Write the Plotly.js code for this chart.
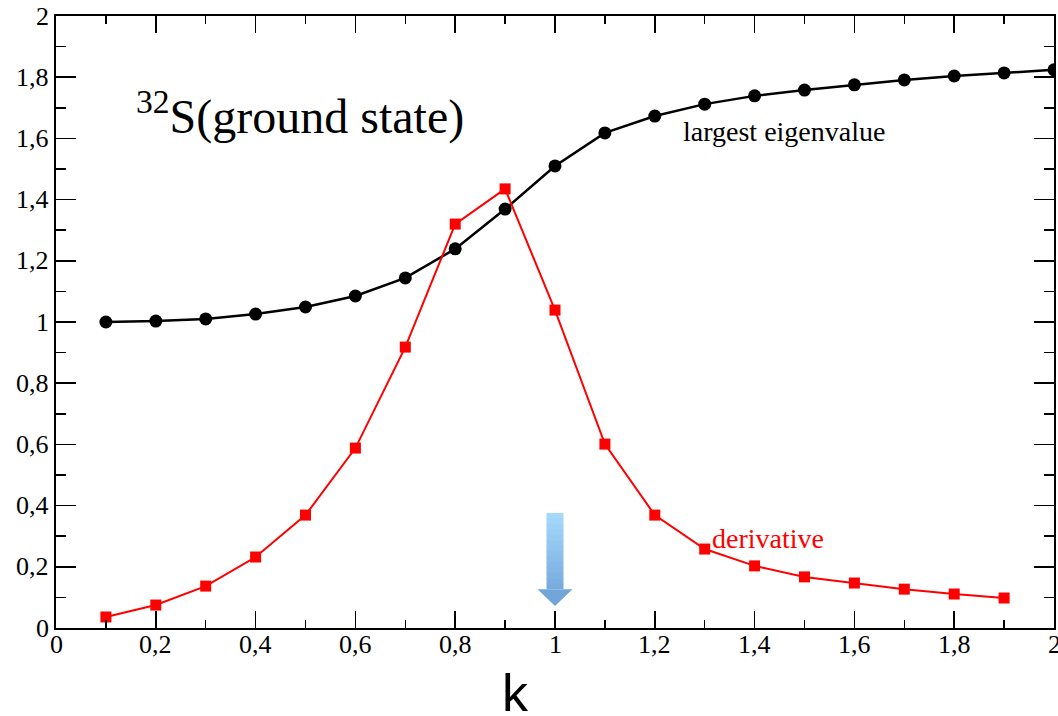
<!DOCTYPE html>
<html>
<head>
<meta charset="utf-8">
<script src="https://cdn.plot.ly/plotly-3.0.1.min.js"></script>
<style>html,body{margin:0;padding:0;background:#fff;}#chart{width:1058px;height:716px;}</style>
</head>
<body>
<div id="chart"></div>
<script>
// data
const kEigen = [0.1,0.2,0.3,0.4,0.5,0.6,0.7,0.8,0.9,1.0,1.1,1.2,1.3,1.4,1.5,1.6,1.7,1.8,1.9,2.0];
const largestEigenvalue = [1.000,1.003,1.010,1.026,1.049,1.085,1.144,1.239,1.369,1.510,1.618,1.673,1.712,1.739,1.758,1.775,1.791,1.804,1.814,1.824];
const kDeriv = [0.1,0.2,0.3,0.4,0.5,0.6,0.7,0.8,0.9,1.0,1.1,1.2,1.3,1.4,1.5,1.6,1.7,1.8,1.9];
const derivative = [0.036,0.075,0.137,0.232,0.369,0.588,0.918,1.320,1.435,1.039,0.601,0.369,0.258,0.203,0.167,0.147,0.127,0.111,0.098];
const tickValues = [0, 0.2, 0.4, 0.6, 0.8, 1, 1.2, 1.4, 1.6, 1.8, 2];
const tickLabels = ['0', '0,2', '0,4', '0,6', '0,8', '1', '1,2', '1,4', '1,6', '1,8', '2'];
const arrowK = 1.0;

const serif = '"Liberation Serif", "Times New Roman", serif';
const sans = '"Liberation Sans", Arial, sans-serif';

// arrow (decoration marking k = 1), drawn as shapes with a stepped vertical gradient
const sw = 0.017, hw = 0.035, yTop = 0.376, yNeck = 0.127, yTip = 0.072;
const topRGB = [168, 218, 253], botRGB = [118, 170, 220];
function mix(t) {
  const c = topRGB.map((v, i) => Math.round(v + (botRGB[i] - v) * t));
  return 'rgb(' + c.join(',') + ')';
}
const arrowShapes = [];
const nBands = 14;
for (let i = 0; i < nBands; i++) {
  const y1 = yTop - (yTop - yNeck) * i / nBands;
  const y0 = yTop - (yTop - yNeck) * (i + 1) / nBands - 0.002;
  arrowShapes.push({type: 'rect', xref: 'x', yref: 'y', x0: arrowK - sw, x1: arrowK + sw, y0: Math.max(y0, yNeck), y1: y1,
    fillcolor: mix((i + 0.5) / nBands), line: {width: 0}, layer: 'below'});
}
arrowShapes.push({type: 'path', xref: 'x', yref: 'y',
  path: 'M ' + (arrowK - hw) + ' ' + yNeck + ' L ' + (arrowK + hw) + ' ' + yNeck + ' L ' + arrowK + ' ' + yTip + ' Z',
  fillcolor: 'rgb(114,166,216)', line: {width: 0}, layer: 'below'});

const traces = [
  {x: kEigen, y: largestEigenvalue, mode: 'lines+markers', name: 'largest eigenvalue',
   line: {color: '#000', width: 2.5}, marker: {symbol: 'circle', size: 13, color: '#000'}},
  {x: kDeriv, y: derivative, mode: 'lines+markers', name: 'derivative',
   line: {color: '#ff0000', width: 2}, marker: {symbol: 'square', size: 11, color: '#ff0000'}}
];

const tickFont = {family: serif, size: 26, color: '#000'};
const annotations = [
  {x: 0.46, y: -0.1062, xref: 'paper', yref: 'paper', xanchor: 'center', yanchor: 'middle', showarrow: false,
   text: 'k', font: {family: sans, size: 52, color: '#000'}},
  {x: 0.489, y: 1.683, xref: 'x', yref: 'y', showarrow: false,
   text: '<sup>32</sup>S(ground state)', font: {family: serif, size: 48, color: '#000'}},
  {x: 1.459, y: 1.621, xref: 'x', yref: 'y', showarrow: false,
   text: 'largest eigenvalue', font: {family: serif, size: 28, color: '#000'}},
  {x: 1.427, y: 0.291, xref: 'x', yref: 'y', showarrow: false,
   text: 'derivative', font: {family: serif, size: 28, color: '#ff0000'}}
];
// tick labels (serif, comma decimals) placed at the axis tick values
tickValues.forEach((v, i) => {
  annotations.push({x: v, y: -0.027, xref: 'x', yref: 'paper', xanchor: 'center', yanchor: 'middle',
    showarrow: false, text: tickLabels[i], font: tickFont});
  annotations.push({x: -0.005, y: v, xref: 'paper', yref: 'y', xanchor: 'right', yanchor: 'middle',
    showarrow: false, text: tickLabels[i], font: tickFont});
});

const layout = {
  width: 1058, height: 716,
  margin: {l: 56, r: 4, t: 16, b: 88},
  paper_bgcolor: '#fff', plot_bgcolor: '#fff',
  showlegend: false,
  font: {family: serif, size: 26, color: '#000'},
  xaxis: {
    range: [0, 2], dtick: 0.2, tick0: 0, showticklabels: false,
    showgrid: false, zeroline: false,
    showline: true, linecolor: '#000', linewidth: 2, mirror: 'allticks',
    ticks: 'inside', ticklen: 17, tickwidth: 1.5, tickcolor: '#000',
    minor: {dtick: 0.1, ticks: 'inside', ticklen: 8, tickwidth: 1.5, tickcolor: '#000'}
  },
  yaxis: {
    range: [0, 2], dtick: 0.2, tick0: 0, showticklabels: false,
    showgrid: false, zeroline: false,
    showline: true, linecolor: '#000', linewidth: 2, mirror: 'allticks',
    ticks: 'inside', ticklen: 20, tickwidth: 1.5, tickcolor: '#000',
    minor: {dtick: 0.1, ticks: 'inside', ticklen: 10, tickwidth: 1.5, tickcolor: '#000'}
  },
  shapes: arrowShapes,
  annotations: annotations
};

Plotly.newPlot('chart', traces, layout, {displayModeBar: false, staticPlot: true});
</script>
</body>
</html>
